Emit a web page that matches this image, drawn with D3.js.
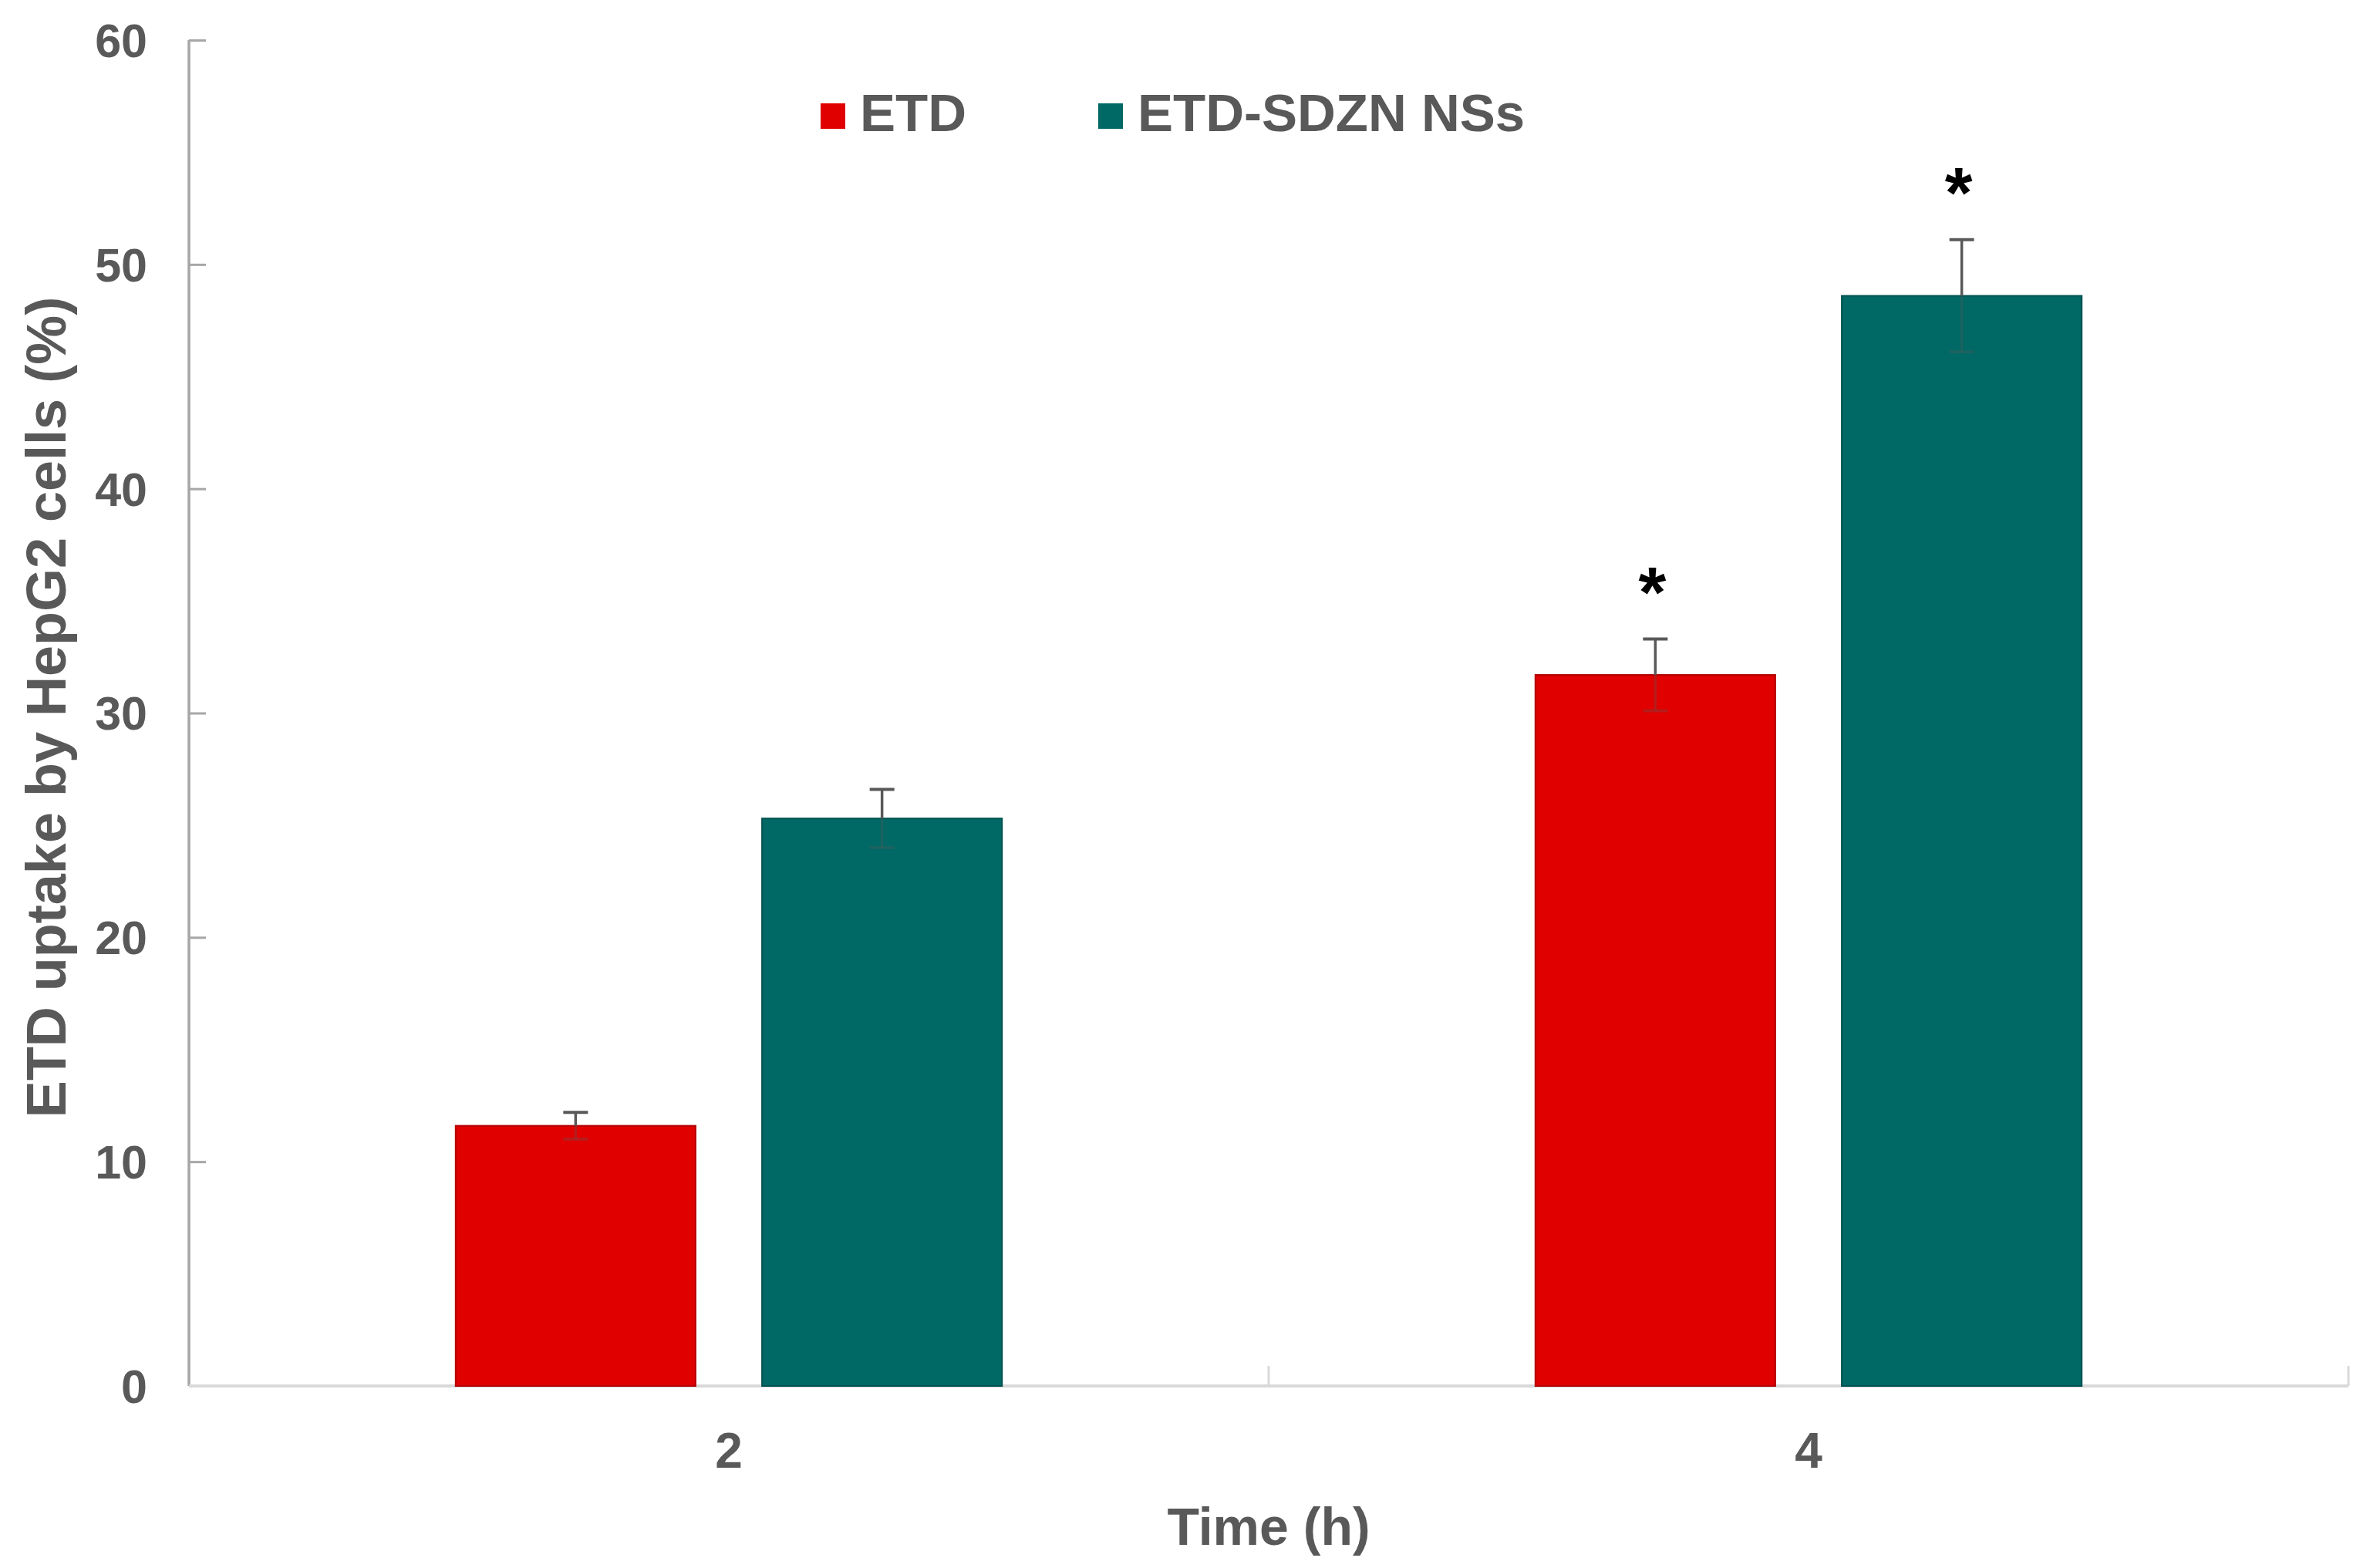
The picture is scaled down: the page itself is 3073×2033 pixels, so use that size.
<!DOCTYPE html>
<html>
<head>
<meta charset="utf-8">
<script src="https://cdn.jsdelivr.net/npm/d3@7"></script>
<style>
  html, body { margin: 0; padding: 0; background: #ffffff; }
  svg { display: block; }
  text { font-family: "Liberation Sans", Arial, sans-serif; font-weight: bold; }
</style>
</head>
<body>
<svg id="chart" width="3073" height="2033"></svg>
<script>
// ---- Data ----
const categories = ["2", "4"];
const seriesNames = ["ETD", "ETD-SDZN NSs"];
const etdValues = [11.6, 31.7];
const etdErrors = [0.6, 1.6];
const sdznValues = [25.3, 48.6];
const sdznErrors = [1.3, 2.5];
const etdSignificant = [false, true];
const sdznSignificant = [false, true];
const yTicks = [0, 10, 20, 30, 40, 50, 60];
const xTitle = "Time (h)";
const yTitle = "ETD uptake by HepG2 cells (%)";
const colors = ["#e00000", "#006865"];
const strokeColors = ["#b30000", "#00514f"];

// ---- Layout ----
const plotLeft = 245, plotRight = 3045, plotTop = 52, plotBottom = 1797;
const svg = d3.select("#chart");

const y = d3.scaleLinear().domain([0, 60]).range([plotBottom, plotTop]);
const x0 = d3.scaleBand().domain(categories).range([plotLeft, plotRight])
  .paddingInner(0.494).paddingOuter(0.247);
const x1 = d3.scaleBand().domain(seriesNames).range([0, x0.bandwidth()])
  .paddingInner(0.217).paddingOuter(0);

const rows = [];
categories.forEach((c, i) => {
  rows.push({cat: c, s: seriesNames[0], v: etdValues[i], e: etdErrors[i], sig: etdSignificant[i], k: 0});
  rows.push({cat: c, s: seriesNames[1], v: sdznValues[i], e: sdznErrors[i], sig: sdznSignificant[i], k: 1});
});

// ---- Y axis ----
const yAxis = d3.axisRight(y).tickValues(yTicks).tickSize(22).tickFormat("");
const gy = svg.append("g").attr("transform", `translate(${plotLeft},0)`).call(yAxis);
gy.select(".domain").attr("stroke", "#a6a6a6").attr("stroke-width", 3.5)
  .attr("d", `M0,${plotTop}V${plotBottom}`);
gy.selectAll(".tick line").attr("stroke", "#a6a6a6").attr("stroke-width", 3);

svg.append("g").selectAll("text").data(yTicks).join("text")
  .attr("x", 191).attr("y", d => y(d)).attr("dy", "0.36em")
  .attr("text-anchor", "end").attr("font-size", 61).attr("fill", "#595959")
  .text(d => d);

// ---- X axis ----
const boundaries = [plotLeft, (plotLeft + plotRight) / 2, plotRight];
const xLine = svg.append("g");
xLine.append("line").attr("x1", plotLeft).attr("x2", plotRight).attr("y1", plotBottom).attr("y2", plotBottom)
  .attr("stroke", "#d9d9d9").attr("stroke-width", 4);
xLine.selectAll("line.div").data(boundaries.slice(1)).join("line").attr("class", "div")
  .attr("x1", d => d).attr("x2", d => d).attr("y1", plotBottom).attr("y2", plotBottom - 26)
  .attr("stroke", "#d9d9d9").attr("stroke-width", 3);

svg.append("g").selectAll("text").data(categories).join("text")
  .attr("x", d => x0(d) + x0.bandwidth() / 2).attr("y", 1903)
  .attr("text-anchor", "middle").attr("font-size", 64).attr("fill", "#595959")
  .text(d => d);

// ---- Bars ----
const bx = d => x0(d.cat) + x1(d.s);
svg.append("g").selectAll("rect").data(rows).join("rect")
  .attr("x", bx).attr("width", x1.bandwidth())
  .attr("y", d => y(d.v)).attr("height", d => y(0) - y(d.v))
  .attr("fill", d => colors[d.k])
  .attr("stroke", d => strokeColors[d.k]).attr("stroke-width", 2);

// ---- Error bars ----
const eg = svg.append("g");
rows.forEach(d => {
  const cx = bx(d) + x1.bandwidth() / 2;
  const capW = 32;
  eg.append("line").attr("x1", cx).attr("x2", cx).attr("y1", y(d.v + d.e)).attr("y2", y(d.v))
    .attr("stroke", "#595959").attr("stroke-width", 3.5);
  eg.append("line").attr("x1", cx - capW / 2).attr("x2", cx + capW / 2)
    .attr("y1", y(d.v + d.e)).attr("y2", y(d.v + d.e))
    .attr("stroke", "#595959").attr("stroke-width", 4);
  eg.append("line").attr("x1", cx).attr("x2", cx).attr("y1", y(d.v)).attr("y2", y(d.v - d.e))
    .attr("stroke", "#595959").attr("stroke-width", 3.5).attr("stroke-opacity", 0.3);
  eg.append("line").attr("x1", cx - capW / 2).attr("x2", cx + capW / 2)
    .attr("y1", y(d.v - d.e)).attr("y2", y(d.v - d.e))
    .attr("stroke", "#595959").attr("stroke-width", 4).attr("stroke-opacity", 0.3);
  if (d.sig) {
    eg.append("text").attr("x", cx - 4).attr("y", y(d.v + d.e) - 82 + 0.58 * 92)
      .attr("text-anchor", "middle").attr("font-size", 92).attr("fill", "#000000")
      .text("*");
  }
});

// ---- Legend ----
const legendItems = [
  {name: seriesNames[0], color: colors[0], x: 1064},
  {name: seriesNames[1], color: colors[1], x: 1424}
];
const lg = svg.append("g");
legendItems.forEach(it => {
  lg.append("rect").attr("x", it.x).attr("y", 134).attr("width", 32).attr("height", 33)
    .attr("fill", it.color);
  lg.append("text").attr("x", it.x + 51).attr("y", 170).attr("font-size", 69)
    .attr("fill", "#595959").text(it.name);
});

// ---- Titles ----
svg.append("text").attr("x", (plotLeft + plotRight) / 2).attr("y", 2003)
  .attr("text-anchor", "middle").attr("font-size", 68).attr("fill", "#595959")
  .text(xTitle);
svg.append("text").attr("transform", `translate(85, 917) rotate(-90)`)
  .attr("text-anchor", "middle").attr("font-size", 72).attr("fill", "#595959")
  .text(yTitle);
</script>
</body>
</html>
